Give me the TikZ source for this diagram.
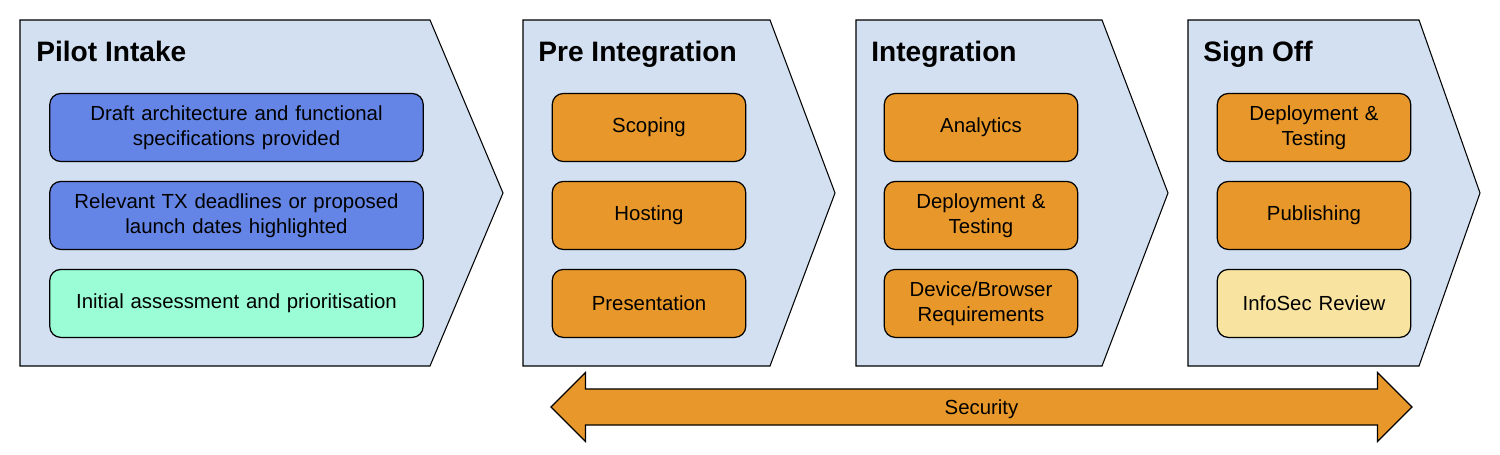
\documentclass[tikz,border=0pt]{standalone}
\usepackage{fontspec}
\setmainfont{Liberation Sans}
\usepackage{tikz}
\usetikzlibrary{positioning,shapes.arrows}

\definecolor{stagebg}{HTML}{D3E0F1}
\definecolor{taskblue}{HTML}{6485E5}
\definecolor{taskgreen}{HTML}{9AFDD6}
\definecolor{taskorange}{HTML}{E8982A}
\definecolor{taskyellow}{HTML}{F8E3A0}

\tikzset{
	stage/.style={draw=black, fill=stagebg, line width=0.6pt},
	title/.style={anchor=base west, inner sep=0pt, font=\fontsize{16}{19}\selectfont\bfseries},
	task/.style={draw=black, line width=0.7pt, rounded corners=0.22cm, align=center, inner sep=1pt,
		minimum height=1.36cm, text width=3.8cm, font=\fontsize{11.6}{14.2}\selectfont},
	wide/.style={task, text width=7.4cm}
}

\begin{document}
\begin{tikzpicture}[x=0.02cm, y=0.02cm, node distance=0.375cm]
			
			\useasboundingbox (0,0) rectangle (1500,-455);
			
			\draw[stage] (20,-20) -- (430,-20) -- (503,-193) -- (430,-366) -- (20,-366) -- cycle;
			\draw[stage] (523,-20) -- (770,-20) -- (835,-193) -- (770,-366) -- (523,-366) -- cycle;
			\draw[stage] (856,-20) -- (1102,-20) -- (1168,-193) -- (1102,-366) -- (856,-366) -- cycle;
			\draw[stage] (1188,-20) -- (1419,-20) -- (1480,-193) -- (1419,-366) -- (1188,-366) -- cycle;
			
			\node[title] (pilot) at (36,-62) {Pilot Intake};
			\node[title] (pre) at (538,-62) {Pre Integration};
			\node[title] (integ) at (871,-62) {Integration};
			\node[title] (signoff) at (1203,-62) {Sign Off};
			
			
			\node[wide, fill=taskblue] (draft) at (236.5,-127.5) {Draft architecture and functional\\specifications provided};
			\node[wide, fill=taskblue, below=of draft] (tx) {Relevant TX deadlines or proposed\\launch dates highlighted};
			\node[wide, fill=taskgreen, below=of tx] (assess) {Initial assessment and prioritisation};
			
			
			\node[task, fill=taskorange] (scope) at (649,-127.5) {Scoping};
			\node[task, fill=taskorange, below=of scope] (host) {Hosting};
			\node[task, fill=taskorange, below=of host] (present) {Presentation};
			
			
			\node[task, fill=taskorange] (analytics) at (981,-127.5) {Analytics};
			\node[task, fill=taskorange, below=of analytics] (deploy) {Deployment \&\\Testing};
			\node[task, fill=taskorange, below=of deploy] (device) {Device/Browser\\Requirements};
			
			
			\node[task, fill=taskorange] (release) at (1314,-127.5) {Deployment \&\\Testing};
			\node[task, fill=taskorange, below=of release] (publish) {Publishing};
			\node[task, fill=taskyellow, below=of publish] (infosec) {InfoSec Review};
			
			\node[double arrow, draw=black, fill=taskorange, line width=0.7pt,
				minimum height=17.22cm, double arrow head extend=0.33cm,
				inner xsep=0pt, inner ysep=0pt, text height=14.1pt, text depth=5.7pt,
				font=\fontsize{11.6}{14.2}\selectfont] (security) at (981.5,-407) {Security};

		\end{tikzpicture}
\end{document}
